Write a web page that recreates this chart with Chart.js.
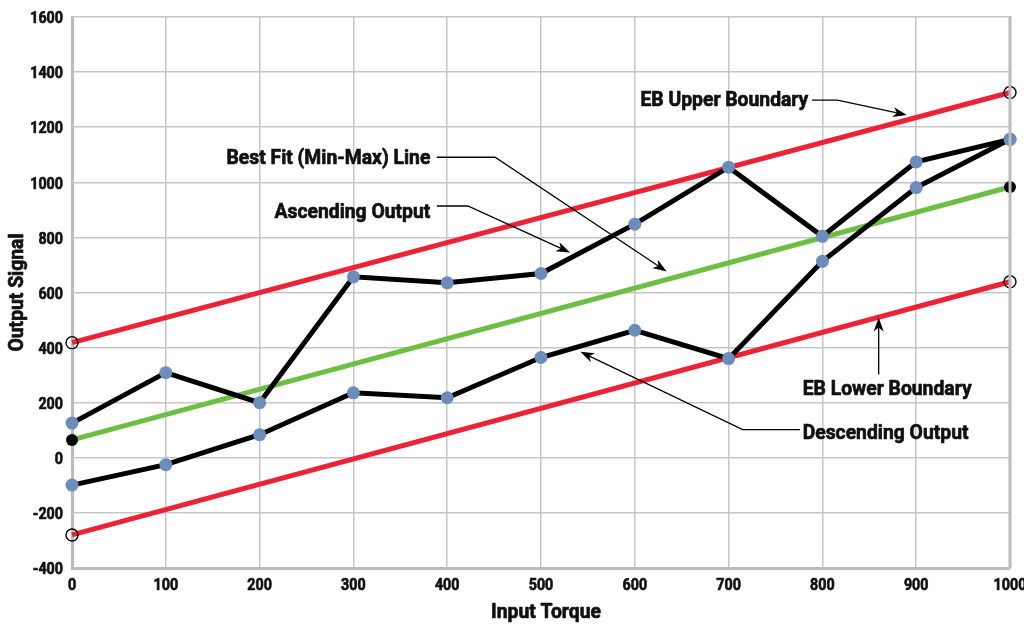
<!DOCTYPE html>
<html>
<head>
<meta charset="utf-8">
<script src="https://cdn.jsdelivr.net/npm/chart.js@4/dist/chart.umd.min.js"></script>
<style>
  html, body { margin: 0; padding: 0; background: #ffffff; }
  #wrap { width: 1024px; height: 624px; }
</style>
</head>
<body>
<div id="wrap"><canvas id="c" width="1024" height="624"></canvas></div>
<script>
// ---- data ----
const torque = [0, 100, 200, 300, 400, 500, 600, 700, 800, 900, 1000];
const ascendingOutput  = [126, 309, 200, 657, 635, 669, 848, 1055, 804, 1074, 1156];
const descendingOutput = [-99, -25, 84, 236, 218, 364, 463, 360, 713, 981, 1156];
const bestFitEnds   = [65, 983];
const upperBoundEnds = [418, 1326];
const lowerBoundEnds = [-280, 639];
const endTorque = [0, 1000];
const xTicks = [0, 100, 200, 300, 400, 500, 600, 700, 800, 900, 1000];
const yTicks = [-400, -200, 0, 200, 400, 600, 800, 1000, 1200, 1400, 1600];
const xTitle = 'Input Torque';
const yTitle = 'Output Signal';

// annotation labels (text, anchor in data units)
const annotations = [
  { text: 'EB Upper Boundary', align: 'right', tx: 785, ty: 1302,
    path: [[789, 1298], [816, 1298], [890, 1244]] },
  { text: 'Best Fit (Min-Max) Line', align: 'right', tx: 382, ty: 1091,
    path: [[389, 1091], [451, 1091], [634, 676]] },
  { text: 'Ascending Output', align: 'right', tx: 382, ty: 898,
    path: [[389, 914], [422, 914], [531, 745]] },
  { text: 'EB Lower Boundary', align: 'left', tx: 779, ty: 255,
    path: [[860, 302], [860, 509]] },
  { text: 'Descending Output', align: 'left', tx: 779, ty: 95,
    path: [[776, 102], [715, 102], [542, 385]] }
];

const FONT = "Roboto, 'Liberation Sans', sans-serif";
const GRID = '#c6c6c6';
const FRAME = '#bcbcbc';
const TEXT = '#111';

const pts = (xs, ys) => xs.map((x, i) => ({ x: x, y: ys[i] }));

// condensed-looking bold text: squeezed horizontally and slightly emboldened
function squeezedText(ctx, text, x, y, align, size, sx, rot) {
  ctx.save();
  ctx.translate(x, y);
  if (rot) ctx.rotate(rot);
  ctx.scale(sx, 1);
  ctx.font = 'bold ' + size + 'px ' + FONT;
  ctx.textAlign = align;
  ctx.textBaseline = 'middle';
  ctx.fillStyle = TEXT;
  ctx.strokeStyle = TEXT;
  ctx.lineWidth = 0.7;
  ctx.lineJoin = 'round';
  ctx.fillText(text, 0, 2);
  ctx.strokeText(text, 0, 2);
  ctx.restore();
}

function drawArrowHead(ctx, x1, y1, x2, y2) {
  const a = Math.atan2(y2 - y1, x2 - x1);
  const L = 14, W = 5, N = 10;
  ctx.save();
  ctx.translate(x2, y2);
  ctx.rotate(a);
  ctx.beginPath();
  ctx.moveTo(0, 0);
  ctx.lineTo(-L, -W);
  ctx.lineTo(-N, 0);
  ctx.lineTo(-L, W);
  ctx.closePath();
  ctx.fillStyle = '#000';
  ctx.fill();
  ctx.restore();
}

const textPlugin = {
  id: 'texts',
  afterDraw(chart) {
    const { ctx, scales: { x, y }, chartArea } = chart;
    // tick labels
    yTicks.forEach(v => squeezedText(ctx, String(v), chartArea.left - 9, y.getPixelForValue(v), 'right', 17, 0.84));
    xTicks.forEach(v => squeezedText(ctx, String(v), x.getPixelForValue(v), chartArea.bottom + 16, 'center', 17, 0.84));
    // axis titles
    squeezedText(ctx, xTitle, (chartArea.left + chartArea.right) / 2 + 5, 611, 'center', 21, 0.92);
    squeezedText(ctx, yTitle, 16, (chartArea.top + chartArea.bottom) / 2, 'center', 21, 0.92, -Math.PI / 2);
  },
  afterDatasetsDraw(chart) {
    const { ctx, scales: { x, y }, chartArea } = chart;
    ctx.save();
    // right frame line
    ctx.strokeStyle = FRAME;
    ctx.lineWidth = 3;
    ctx.beginPath();
    ctx.moveTo(chartArea.right, chartArea.top - 1);
    ctx.lineTo(chartArea.right, chartArea.bottom);
    ctx.stroke();

    annotations.forEach(a => {
      squeezedText(ctx, a.text, x.getPixelForValue(a.tx), y.getPixelForValue(a.ty), a.align, 21, 0.92);
      const p = a.path.map(q => [x.getPixelForValue(q[0]), y.getPixelForValue(q[1])]);
      ctx.strokeStyle = '#000';
      ctx.lineWidth = 1.3;
      ctx.beginPath();
      ctx.moveTo(p[0][0], p[0][1]);
      for (let i = 1; i < p.length; i++) {
        if (i === p.length - 1) {
          const dx = p[i][0] - p[i-1][0], dy = p[i][1] - p[i-1][1];
          const d = Math.hypot(dx, dy);
          ctx.lineTo(p[i][0] - dx / d * 10, p[i][1] - dy / d * 10);
        } else {
          ctx.lineTo(p[i][0], p[i][1]);
        }
      }
      ctx.stroke();
      const n = p.length;
      drawArrowHead(ctx, p[n-2][0], p[n-2][1], p[n-1][0], p[n-1][1]);
    });
    ctx.restore();
  }
};

const BLUE = '#6c8dba';
const RED = '#ee2236';
const GREEN = '#6cbf43';

new Chart(document.getElementById('c'), {
  type: 'line',
  data: {
    datasets: [
      { label: 'Ascending Output', data: pts(torque, ascendingOutput), order: 1,
        borderColor: '#000', borderWidth: 5, pointRadius: 6.5, pointBackgroundColor: BLUE,
        pointBorderWidth: 0, tension: 0, clip: false },
      { label: 'Descending Output', data: pts(torque, descendingOutput), order: 2,
        borderColor: '#000', borderWidth: 5, pointRadius: 6.5, pointBackgroundColor: BLUE,
        pointBorderWidth: 0, tension: 0, clip: false },
      { label: 'Best Fit (Min-Max) Line', data: pts(endTorque, bestFitEnds), order: 3,
        borderColor: GREEN, borderWidth: 5, pointRadius: 6, pointBackgroundColor: '#000',
        pointBorderWidth: 0, tension: 0, clip: false },
      { label: 'EB Upper Boundary', data: pts(endTorque, upperBoundEnds), order: 4,
        borderColor: RED, borderWidth: 5, pointRadius: 6, pointBackgroundColor: 'rgba(0,0,0,0)',
        pointBorderColor: '#000', pointBorderWidth: 1.4, tension: 0, clip: false },
      { label: 'EB Lower Boundary', data: pts(endTorque, lowerBoundEnds), order: 5,
        borderColor: RED, borderWidth: 5, pointRadius: 6, pointBackgroundColor: 'rgba(0,0,0,0)',
        pointBorderColor: '#000', pointBorderWidth: 1.4, tension: 0, clip: false }
    ]
  },
  options: {
    responsive: false,
    animation: false,
    layout: { padding: { top: 17, right: 14, left: 0, bottom: 0 } },
    plugins: { legend: { display: false }, tooltip: { enabled: false } },
    scales: {
      x: {
        type: 'linear', min: 0, max: 1000,
        afterBuildTicks: s => { s.ticks = xTicks.map(v => ({ value: v })); },
        afterFit: s => { s.height = 56; s.paddingRight = 0; s.paddingLeft = 0; },
        grid: { color: GRID, lineWidth: 1.5, drawTicks: false },
        border: { color: FRAME, width: 3 },
        ticks: { display: false },
        title: { display: false }
      },
      y: {
        type: 'linear', min: -400, max: 1600,
        afterBuildTicks: s => { s.ticks = yTicks.map(v => ({ value: v })); },
        afterFit: s => { s.width = 72; s.paddingTop = 0; s.paddingBottom = 0; },
        grid: { color: GRID, lineWidth: 1.5, drawTicks: false },
        border: { color: FRAME, width: 3 },
        ticks: { display: false },
        title: { display: false }
      }
    }
  },
  plugins: [textPlugin]
});
</script>
</body>
</html>
